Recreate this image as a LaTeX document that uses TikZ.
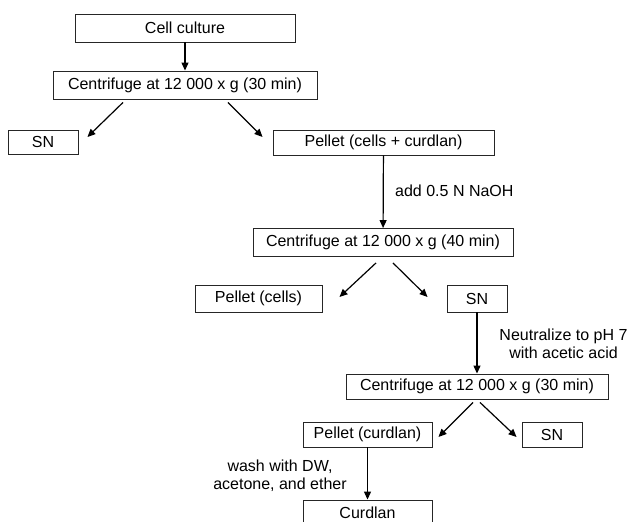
\documentclass[tikz,border=0pt]{standalone}
\usepackage{fontspec}
\setmainfont{Liberation Sans}
\usetikzlibrary{arrows.meta}
\begin{document}
\begin{tikzpicture}[x=1pt,y=-1pt,
  box/.style={draw=black!85,line width=0.9pt,inner sep=0pt,font=\fontsize{16}{20}\selectfont},
  arr/.style={-{Triangle[length=8pt,width=7pt]},line width=1.2pt},
  lbl/.style={inner sep=0pt,font=\fontsize{16}{18}\selectfont,align=center}]
\useasboundingbox (0,0) rectangle (632,522);
\node[box,minimum width=220pt,minimum height=28pt] (cell) at (185,28) {Cell culture};
\node[box,minimum width=264pt,minimum height=28pt] (c1) at (185,85) {Centrifuge at 12 000 x g (30 min)};
\node[box,minimum width=70pt,minimum height=24pt] (sn1) at (43,142) {SN};
\node[box,minimum width=221pt,minimum height=25pt] (p1) at (383.5,142.5) {Pellet (cells + curdlan)};
\node[box,minimum width=260pt,minimum height=28pt] (c2) at (383,242.5) {Centrifuge at 12 000 x g (40 min)};
\node[box,minimum width=127pt,minimum height=27pt] (pc) at (258.5,298.5) {Pellet (cells)};
\node[box,minimum width=60pt,minimum height=27pt] (sn2) at (477,298.5) {SN};
\node[box,minimum width=262pt,minimum height=25pt] (c3) at (477,386.5) {Centrifuge at 12 000 x g (30 min)};
\node[box,minimum width=129pt,minimum height=25pt] (pcur) at (367.5,434.5) {Pellet (curdlan)};
\node[box,minimum width=60pt,minimum height=25pt] (sn3) at (552,434.5) {SN};
\node[box,minimum width=129pt,minimum height=25pt] (curd) at (367.5,512.5) {Curdlan};

\draw[arr] (cell) -- (c1);
\draw[arr] ([xshift=-62pt,yshift=-3pt]c1.south) -- ([xshift=9pt,yshift=5pt]sn1.east);
\draw[arr] ([xshift=43pt,yshift=-3pt]c1.south) -- ([xshift=-10pt,yshift=5.5pt]p1.west);
\draw[arr] (p1) -- (c2);
\node[lbl,anchor=west] (l1) at (395,191) {add 0.5 N NaOH};
\draw[arr] ([xshift=-7pt,yshift=-6pt]c2.south) -- ([xshift=17pt,yshift=1.5pt]pc.east);
\draw[arr] ([xshift=10pt,yshift=-6pt]c2.south) -- ([xshift=-19pt,yshift=1.5pt]sn2.west);
\draw[arr] (sn2) -- (c3);
\node[lbl] (l2) at (563.5,344) {Neutralize to pH 7\\with acetic acid};
\draw[arr] ([xshift=-4pt,yshift=-3pt]c3.south) -- ([xshift=6pt,yshift=-2.5pt]pcur.east);
\draw[arr] ([xshift=3pt,yshift=-3pt]c3.south) -- ([xshift=-5pt,yshift=-2.5pt]sn3.west);
\draw[arr] (pcur) -- (curd);
\node[lbl] (l3) at (280,476) {wash with DW,\\acetone, and ether};
\end{tikzpicture}
\end{document}
